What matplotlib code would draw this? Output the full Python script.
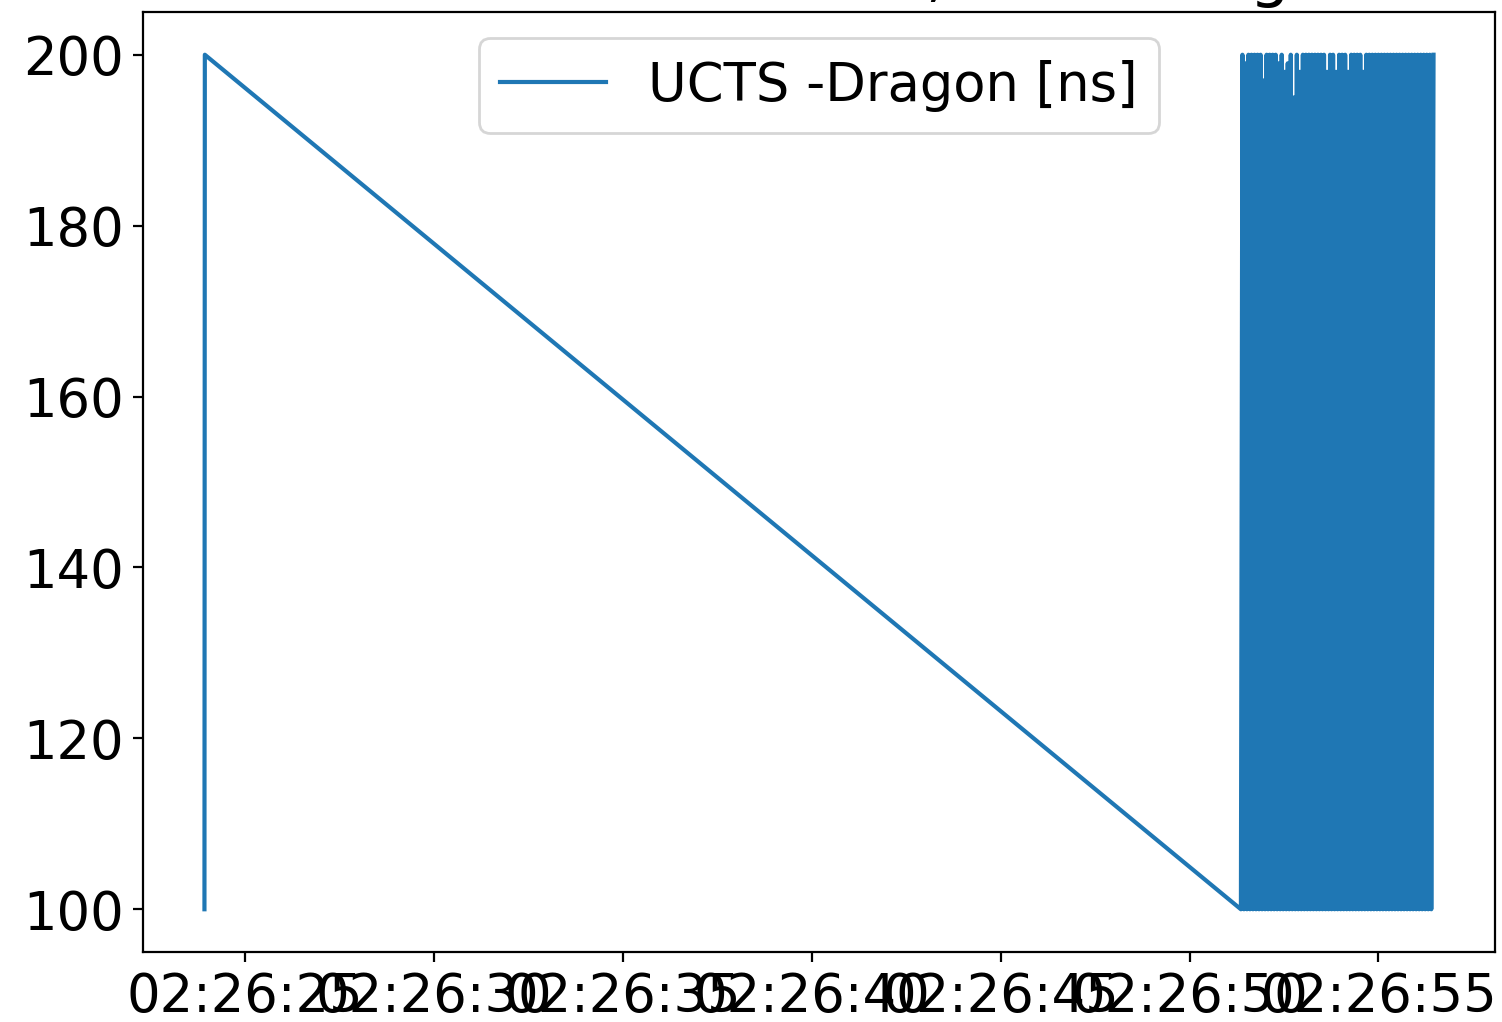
import matplotlib
matplotlib.use("Agg")
import matplotlib.pyplot as plt
import matplotlib.dates as mdates
import pandas as pd

plt.rcParams['font.size'] = 19

# seconds after 02:26:00 and UCTS - Dragon difference [ns]
start_sec = [23.92, 23.93]
start_val = [100, 200]

block_sec = [
    51.36, 51.40, 51.44, 51.48, 51.52, 51.56, 51.60, 51.64, 51.68, 51.72,
    51.76, 51.80, 51.84, 51.88, 51.92, 51.96, 52.00, 52.04, 52.08, 52.12,
    52.16, 52.20, 52.24, 52.28, 52.32, 52.36, 52.40, 52.44, 52.48, 52.52,
    52.56, 52.60, 52.64, 52.68, 52.72, 52.76, 52.80, 52.84, 52.88, 52.92,
    52.96, 53.00, 53.04, 53.08, 53.12, 53.16, 53.20, 53.24, 53.28, 53.32,
    53.36, 53.40, 53.44, 53.48, 53.52, 53.56, 53.60, 53.64, 53.68, 53.72,
    53.76, 53.80, 53.84, 53.88, 53.92, 53.96, 54.00, 54.04, 54.08, 54.12,
    54.16, 54.20, 54.24, 54.28, 54.32, 54.36, 54.40, 54.44, 54.48, 54.52,
    54.56, 54.60, 54.64, 54.68, 54.72, 54.76, 54.80, 54.84, 54.88, 54.92,
    54.96, 55.00, 55.04, 55.08, 55.12, 55.16, 55.20, 55.24, 55.28, 55.32,
    55.36, 55.40, 55.44, 55.48, 55.52, 55.56, 55.60, 55.64, 55.68, 55.72,
    55.76, 55.80, 55.84, 55.88, 55.92, 55.96, 56.00, 56.04, 56.08, 56.12,
    56.16, 56.20, 56.24, 56.28, 56.32, 56.36, 56.40, 56.46,
]
block_val = [
    100, 200, 100, 199, 100, 200, 100, 200, 100, 200,
    100, 200, 100, 200, 100, 197, 100, 200, 100, 200,
    100, 200, 100, 200, 100, 199, 100, 200, 100, 198,
    100, 199, 100, 200, 100, 195, 100, 200, 100, 198,
    100, 200, 100, 200, 100, 200, 100, 200, 100, 200,
    100, 200, 100, 200, 100, 200, 100, 198, 100, 200,
    100, 200, 100, 198, 100, 200, 100, 200, 100, 200,
    100, 198, 100, 200, 100, 200, 100, 200, 100, 200,
    100, 198, 100, 200, 100, 200, 100, 200, 100, 200,
    100, 200, 100, 200, 100, 200, 100, 200, 100, 200,
    100, 200, 100, 200, 100, 200, 100, 200, 100, 200,
    100, 200, 100, 200, 100, 200, 100, 200, 100, 200,
    100, 200, 100, 200, 100, 200, 100, 200,
]

secs = start_sec + block_sec
vals = start_val + block_val
times = pd.Timestamp("2019-11-20 02:26:00") + pd.to_timedelta(secs, unit="s")

fig = plt.figure(figsize=(7.51, 5.11), dpi=200)
ax = fig.add_axes([143 / 1502, 70 / 1022, 1352 / 1502, 940 / 1022])
ax.plot(times, vals, label="UCTS -Dragon [ns]")

ax.xaxis.set_major_locator(mdates.SecondLocator(bysecond=range(0, 60, 5)))
ax.xaxis.set_major_formatter(mdates.DateFormatter("%H:%M:%S"))
ax.set_title("Run 1632 on LST1, TIB timing")
ax.legend(loc="upper center")

fig.savefig("out.png", dpi=200)
